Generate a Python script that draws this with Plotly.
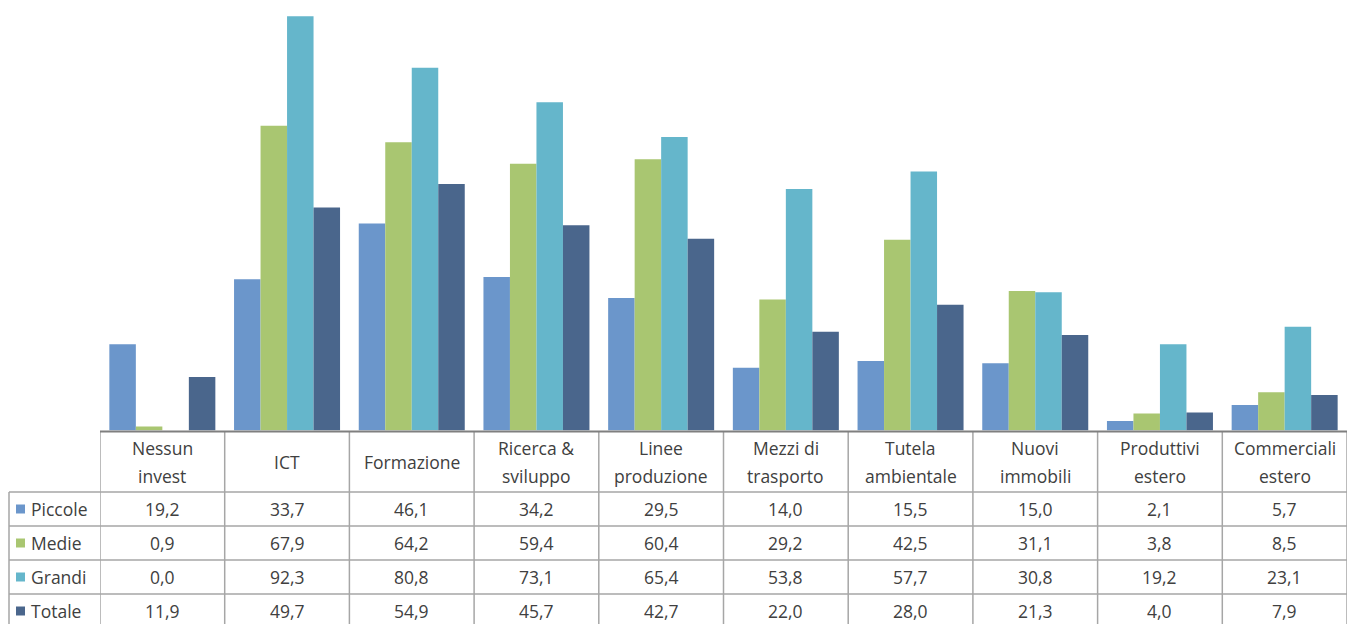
import plotly.graph_objects as go

# Categories (header lines of the data table) and series values
categories = ["Nessun<br>invest", "ICT", "Formazione", "Ricerca &<br>sviluppo",
              "Linee<br>produzione", "Mezzi di<br>trasporto", "Tutela<br>ambientale",
              "Nuovi<br>immobili", "Produttivi<br>estero", "Commerciali<br>estero"]
series_names = ["Piccole", "Medie", "Grandi", "Totale"]
piccole = [19.2, 33.7, 46.1, 34.2, 29.5, 14.0, 15.5, 15.0, 2.1, 5.7]
medie = [0.9, 67.9, 64.2, 59.4, 60.4, 29.2, 42.5, 31.1, 3.8, 8.5]
grandi = [0.0, 92.3, 80.8, 73.1, 65.4, 53.8, 57.7, 30.8, 19.2, 23.1]
totale = [11.9, 49.7, 54.9, 45.7, 42.7, 22.0, 28.0, 21.3, 4.0, 7.9]
colors = ["#6B96CB", "#A9C671", "#65B6CB", "#4A668C"]

W, H = 1349, 624
FONT = "Open Sans"
FS = 17.5
TXT = "#404040"
GRID = "#A6A6A6"

# Layout in pixels
plot_left, plot_right = 100, 1347
baseline = 430.5
y_max = 95.9
table_top = 432
header_bottom = 492
row_h = 34
label_left = 9


def fx(px):
    return px / W


def fy(py):
    return 1 - py / H


fig = go.Figure()
xs = list(range(len(categories)))
for name, vals, col in zip(series_names, [piccole, medie, grandi, totale], colors):
    fig.add_trace(go.Bar(x=xs, y=vals, name=name, marker=dict(color=col, line=dict(width=0)),
                         showlegend=False, hoverinfo="x+y+name"))

shapes = []
annotations = []

# Vertical column separators of the table
for i in range(len(categories) + 1):
    shapes.append(dict(type="line", xref="x", yref="paper", x0=i - 0.5, x1=i - 0.5,
                       y0=fy(table_top), y1=fy(H + 10), line=dict(color=GRID, width=1.5)))
# Left border of the row label column
shapes.append(dict(type="line", xref="paper", yref="paper", x0=fx(label_left), x1=fx(label_left),
                   y0=fy(header_bottom), y1=fy(H + 10), line=dict(color=GRID, width=1.5)))
# Horizontal row separators
row_tops = [header_bottom + k * row_h for k in range(len(series_names))]
for yp in row_tops:
    shapes.append(dict(type="line", xref="paper", yref="paper", x0=fx(label_left), x1=fx(plot_right),
                       y0=fy(yp), y1=fy(yp), line=dict(color=GRID, width=1.5)))

# Header texts
for i, cat in enumerate(categories):
    lines = cat.split("<br>")
    ys = [462] if len(lines) == 1 else [448, 476]
    for line, yp in zip(lines, ys):
        annotations.append(dict(x=i, y=fy(yp), xref="x", yref="paper", text=line,
                                showarrow=False, xanchor="center", yanchor="middle",
                                font=dict(family=FONT, size=FS, color=TXT)))

# Row labels with colour keys and values
for r, (name, vals, col) in enumerate(zip(series_names, [piccole, medie, grandi, totale], colors)):
    yc = row_tops[r] + row_h / 2
    shapes.append(dict(type="rect", xref="paper", yref="paper", x0=fx(16), x1=fx(25),
                       y0=fy(yc + 4.5), y1=fy(yc - 4.5), fillcolor=col, line=dict(width=0)))
    annotations.append(dict(x=fx(29), y=fy(yc), xref="paper", yref="paper", text=name,
                            showarrow=False, xanchor="left", yanchor="middle",
                            font=dict(family=FONT, size=FS, color=TXT)))
    for i, v in enumerate(vals):
        annotations.append(dict(x=i, y=fy(yc), xref="x", yref="paper",
                                text=f"{v:.1f}".replace(".", ","),
                                showarrow=False, xanchor="center", yanchor="middle",
                                font=dict(family=FONT, size=FS, color=TXT)))

# Category axis line at the base of the bars
shapes.append(dict(type="line", xref="paper", yref="paper", x0=fx(plot_left), x1=fx(plot_right),
                   y0=fy(table_top - 0.5), y1=fy(table_top - 0.5), line=dict(color="#7F7F7F", width=2)))

fig.update_layout(
    width=W, height=H,
    margin=dict(l=0, r=0, t=0, b=0),
    paper_bgcolor="white", plot_bgcolor="white",
    barmode="group", bargap=0.15, bargroupgap=0,
    xaxis=dict(domain=[fx(plot_left), fx(plot_right)], range=[-0.5, len(categories) - 0.5],
               showticklabels=False, showgrid=False, zeroline=False, showline=False, fixedrange=True),
    yaxis=dict(domain=[fy(baseline), 1], range=[0, y_max], showticklabels=False,
               showgrid=False, zeroline=False, showline=False, fixedrange=True),
    shapes=shapes, annotations=annotations,
    font=dict(family=FONT, color=TXT),
)

fig.write_html("out.html")
